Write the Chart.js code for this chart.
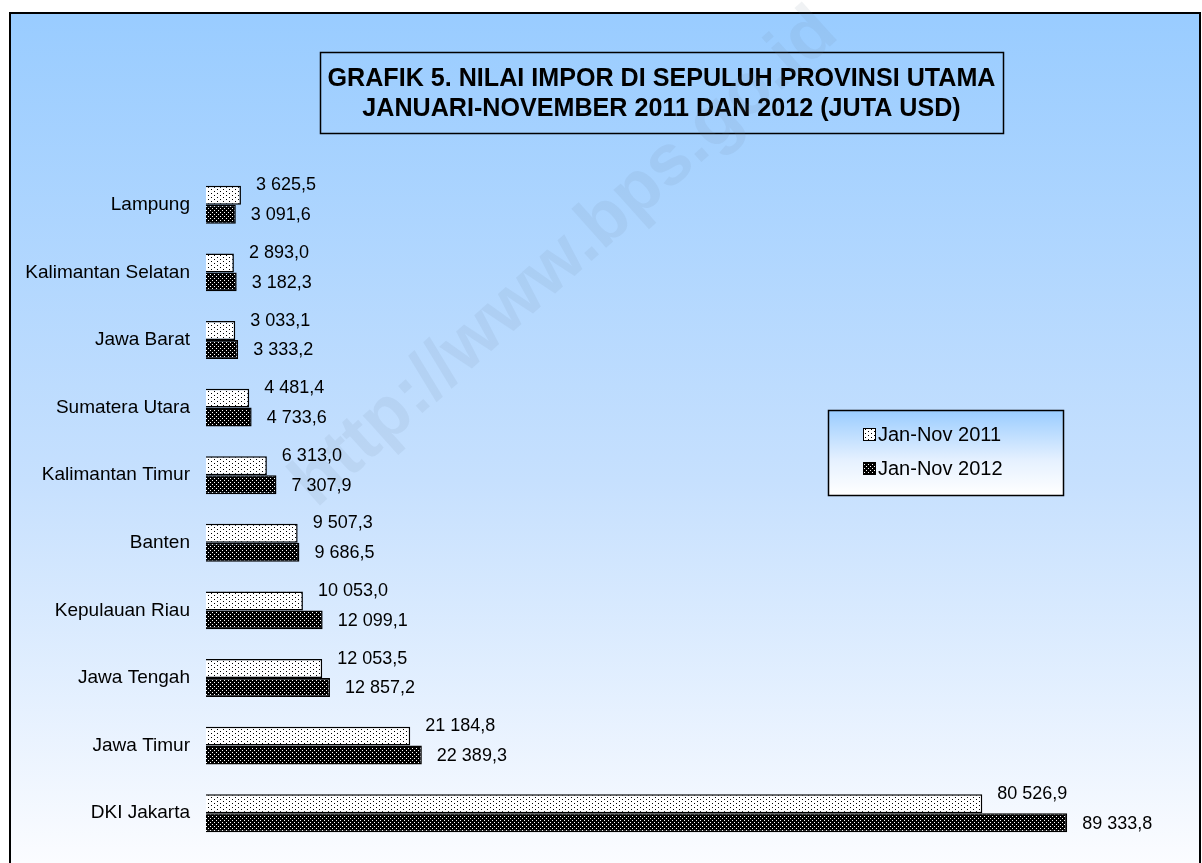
<!DOCTYPE html>
<html>
<head>
<meta charset="utf-8">
<script src="https://cdn.jsdelivr.net/npm/chart.js@4.4.0/dist/chart.umd.min.js"></script>
<style>
  html, body { margin: 0; padding: 0; background: #fff; }
  #wrap { width: 1202px; height: 863px; }
</style>
</head>
<body>
<div id="wrap"><canvas id="imporChart" width="1202" height="863"></canvas></div>
<script>
// data (juta USD)
const provinces = ['Lampung', 'Kalimantan Selatan', 'Jawa Barat', 'Sumatera Utara', 'Kalimantan Timur',
  'Banten', 'Kepulauan Riau', 'Jawa Tengah', 'Jawa Timur', 'DKI Jakarta'];
const impor2011 = [3625.5, 2893.0, 3033.1, 4481.4, 6313.0, 9507.3, 10053.0, 12053.5, 21184.8, 80526.9];
const impor2012 = [3091.6, 3182.3, 3333.2, 4733.6, 7307.9, 9686.5, 12099.1, 12857.2, 22389.3, 89333.8];
const seriesNames = ['Jan-Nov 2011', 'Jan-Nov 2012'];
const titleLines = ['GRAFIK 5. NILAI IMPOR DI SEPULUH PROVINSI UTAMA', 'JANUARI-NOVEMBER 2011 DAN 2012 (JUTA USD)'];
const watermark = 'http://www.bps.go.id';

const FONT = '"Liberation Sans", Arial, sans-serif';

// number like 89 333,8
const fmt = (v) => {
  const [i, d] = v.toFixed(1).split('.');
  return i.replace(/\B(?=(\d{3})+(?!\d))/g, ' ') + ',' + d;
};

// dotted fill patterns
function makePattern(bg, fg, w, h, dots) {
  const c = document.createElement('canvas');
  c.width = w; c.height = h;
  const g = c.getContext('2d');
  g.fillStyle = bg;
  g.fillRect(0, 0, w, h);
  g.fillStyle = fg;
  dots.forEach(([x, y]) => g.fillRect(x, y, 1, 1));
  return g.createPattern(c, 'repeat');
}
const ctx = document.getElementById('imporChart').getContext('2d');
const lightDots = makePattern('#ffffff', '#000000', 6, 4, [[1, 1], [4, 3]]);
const darkDots = makePattern('#000000', '#ffffff', 4, 4, [[0, 0], [2, 2]]);

// frame, gradient, title box and watermark
const backdrop = {
  id: 'backdrop',
  beforeDraw(chart) {
    const c = chart.ctx;
    c.save();
    c.fillStyle = '#ffffff';
    c.fillRect(0, 0, chart.width, chart.height);
    const grad = c.createLinearGradient(0, 12, 0, 863);
    grad.addColorStop(0, '#99ccff');
    grad.addColorStop(0.55, '#c6e0fe');
    grad.addColorStop(1, '#fbfcff');
    c.fillStyle = grad;
    c.fillRect(10, 13, 1190, 870);
    c.strokeStyle = '#000';
    c.lineWidth = 2;
    c.strokeRect(10, 13, 1190, 870);

    // title box
    c.lineWidth = 1.5;
    c.strokeRect(320.5, 52.5, 683, 81);
    c.fillStyle = '#000';
    c.textAlign = 'center';
    c.textBaseline = 'middle';
    c.font = 'bold 26px ' + FONT;
    const w0 = c.measureText(titleLines[0]).width;
    const sx = 668 / w0;
    titleLines.forEach((t, i) => {
      c.save();
      c.translate(661.5, 79 + i * 30);
      c.scale(sx, 1);
      c.fillText(t, 0, 0);
      c.restore();
    });
    c.restore();
  },
  beforeDatasetsDraw(chart) {
    const c = chart.ctx;
    c.save();
    c.translate(565, 258);
    c.rotate(-42 * Math.PI / 180);
    c.font = 'bold 72px ' + FONT;
    c.textAlign = 'center';
    c.textBaseline = 'middle';
    c.fillStyle = 'rgba(110,125,150,0.1)';
    c.fillText(watermark, 0, 0);
    c.restore();
  }
};

// value labels at bar ends
const valueLabels = {
  id: 'valueLabels',
  afterDatasetsDraw(chart) {
    const c = chart.ctx;
    c.save();
    c.font = '18px ' + FONT;
    c.fillStyle = '#000';
    c.textAlign = 'left';
    c.textBaseline = 'middle';
    chart.data.datasets.forEach((ds, di) => {
      chart.getDatasetMeta(di).data.forEach((bar, i) => {
        const dy = di === 0 ? -10 : 1;
        c.fillText(fmt(ds.data[i]), bar.x + 15, bar.y + dy);
      });
    });
    c.restore();
  }
};

// legend box
const legendBox = {
  id: 'legendBox',
  afterDraw(chart) {
    const c = chart.ctx;
    c.save();
    const x = 828, y = 410, w = 235, h = 85;
    const grad = c.createLinearGradient(0, y, 0, y + h);
    grad.addColorStop(0, '#99ccff');
    grad.addColorStop(0.6, '#e6f1ff');
    grad.addColorStop(1, '#ffffff');
    c.fillStyle = grad;
    c.fillRect(x, y, w, h);
    c.strokeStyle = '#000';
    c.lineWidth = 1.5;
    c.strokeRect(x + 0.5, y + 0.5, w, h);
    c.font = '20px ' + FONT;
    c.textBaseline = 'middle';
    chart.data.datasets.forEach((ds, i) => {
      const cy = 435 + i * 34;
      c.fillStyle = ds.backgroundColor;
      c.fillRect(863, cy - 7, 13, 13);
      c.lineWidth = 1;
      c.strokeRect(863.5, cy - 6.5, 12, 12);
      c.fillStyle = '#000';
      c.fillText(ds.label, 878, cy);
    });
    c.restore();
  }
};

new Chart(ctx, {
  type: 'bar',
  data: {
    labels: provinces,
    datasets: [
      { label: seriesNames[0], data: impor2011, backgroundColor: lightDots, borderColor: '#000', borderWidth: 1.5 },
      { label: seriesNames[1], data: impor2012, backgroundColor: darkDots, borderColor: '#000', borderWidth: 1.5 }
    ]
  },
  options: {
    indexAxis: 'y',
    responsive: false,
    animation: false,
    devicePixelRatio: 1,
    layout: { padding: { left: 0, top: 171, right: 32, bottom: 16 } },
    datasets: { bar: { categoryPercentage: 0.56, barPercentage: 1 } },
    plugins: {
      legend: { display: false },
      tooltip: { enabled: false },
      title: { display: false }
    },
    scales: {
      x: { display: false, min: 0, max: 100000 },
      y: {
        grid: { display: false, drawTicks: true, tickLength: 16 },
        border: { display: false },
        ticks: { color: '#000', padding: 0, font: { size: 19, family: FONT } },
        afterFit(scale) { scale.width = 206; }
      }
    }
  },
  plugins: [backdrop, valueLabels, legendBox]
});
</script>
</body>
</html>
